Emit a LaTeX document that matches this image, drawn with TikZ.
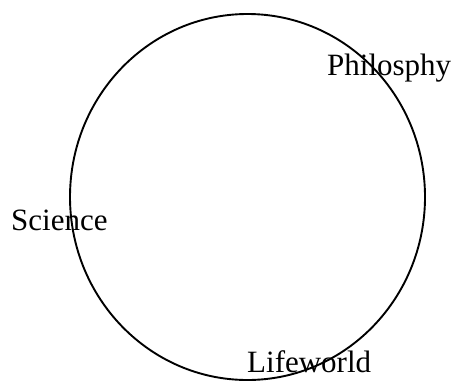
\documentclass[tikz,border=0pt]{standalone}
\usepackage{fontspec}
\setmainfont{Liberation Serif}
\usetikzlibrary{positioning}
\tikzset{
  field/.style={font=\fontsize{31}{37}\selectfont,inner sep=0pt,anchor=base west}
}

\begin{document}
\begin{tikzpicture}[x=1pt,y=-1pt]
    \useasboundingbox (0,0) rectangle (457,380);
    \draw[line width=1.9pt] (247.5,197) ellipse [x radius=177.5,y radius=183];
    \foreach \n/\x/\y/\t in {phil/327/75/Philosphy, sci/11/230/Science, life/247/372/Lifeworld}
    {
      \node[field] (\n) at (\x,\y) {\t};
    }
  \end{tikzpicture}
\end{document}
